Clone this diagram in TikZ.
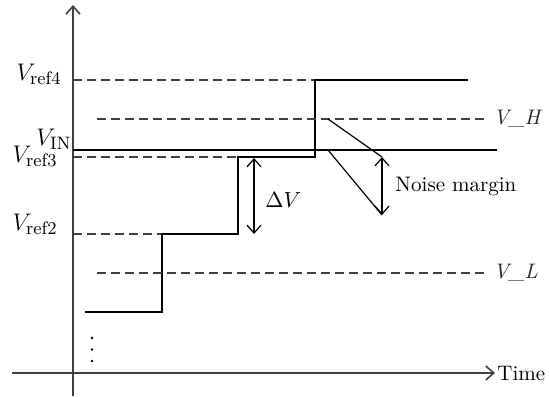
\documentclass[tikz,border=0pt]{standalone}
\usepackage{amsmath}
\usepackage{tikz}
\usetikzlibrary{arrows.meta, positioning, calc}

\begin{document}
\begin{tikzpicture}[
   x=0.5pt, y=-0.5pt,
   font=\fontsize{10.5}{12}\selectfont,
   >={Straight Barb[length=4pt, width=7pt]},
   axis/.style={draw=black!75, line width=0.8pt},
   lvl/.style={draw=black!75, line width=0.6pt, dash pattern=on 4.5pt off 2.5pt},
   sig/.style={draw=black, line width=0.6pt},
   ylbl/.style={anchor=base east, inner sep=0pt, font=\fontsize{12.5}{14}\selectfont},
   rlbl/.style={anchor=west, inner sep=2.5pt, text=black!85},
]
\useasboundingbox (0,0) rectangle (549,396);

% ---- axes ----
\coordinate (ybot) at (73,396);
\coordinate (ytop) at (73,5);
\coordinate (xl) at (12,373);
\node[anchor=west, inner sep=1pt] (time) at (495,373) {Time};
\draw[axis, ->] (ybot) -- (ytop);
\draw[axis, ->] (xl) -- (time.west);

% ---- reference levels ----
\coordinate (r4) at (73,80);
\coordinate (r3) at (73,157);
\coordinate (r2) at (73,234);
\coordinate (rin) at (73,150);
\node[ylbl] (vr4) at (62,80) {$V_{\mathrm{ref4}}$};
\node[ylbl] (vin) at (72,145) {$V_{\mathrm{IN}}$};
\node[ylbl] (vr3) at (58,162) {$V_{\mathrm{ref3}}$};
\node[ylbl] (vr2) at (58,230) {$V_{\mathrm{ref2}}$};

% ---- staircase ----
\coordinate (s0) at (85,312);
\coordinate (s1) at (162,312);
\coordinate (s2) at (162,234);
\coordinate (s2r) at (238,234);
\coordinate (s3) at (238,157);
\coordinate (s3r) at (315,157);
\coordinate (s4) at (315,80);
\coordinate (s4r) at (468,80);
\draw[lvl] (r2) -- (s2);
\draw[lvl] (r3) -- (s3);
\draw[lvl] (r4) -- (s4);
\draw[sig] (s0) -- (s1) -- (s2) -- (s2r) -- (s3) -- (s3r) -- (s4) -- (s4r);
\draw[sig] (rin) -- (497,150);

% ---- thresholds ----
\coordinate (vh0) at (97,119);
\coordinate (vl0) at (97,273);
\node[rlbl] (vh) at (488,119) {\textit{V\_H}};
\node[rlbl] (vl) at (488,273) {\textit{V\_L}};
\draw[lvl] (vh0) -- (vh.west);
\draw[lvl] (vl0) -- (vl.west);

% ---- step size ----
\coordinate (dvt) at (254,158);
\coordinate (dvb) at (254,234);
\draw[sig, <->] (dvt) -- (dvb);
\node[anchor=west, inner sep=1pt] (dv) at (263,200) {$\Delta V$};

% ---- noise margin ----
\coordinate (nm1) at (328,119);
\coordinate (nm2) at (328,150);
\coordinate (nmt) at (382,157);
\coordinate (nmb) at (382,215);
\draw[sig] (nm1) -- (nmt);
\draw[sig] (nm2) -- (nmb);
\draw[sig, <->] (nmt) -- (nmb);
\node[anchor=west, inner sep=1pt] (nm) at (393,186) {Noise margin};

% ---- dots ----
\foreach \yy in {338,349.5,361}
   \fill (92,\yy) circle (1.4);
\end{tikzpicture}
\end{document}
